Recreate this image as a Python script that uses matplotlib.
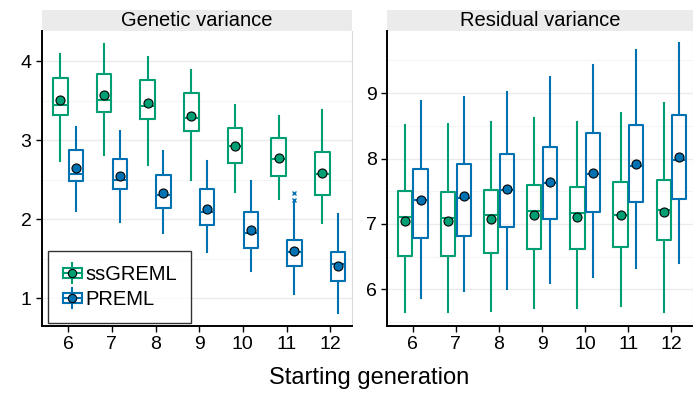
import matplotlib.pyplot as plt
from matplotlib.legend_handler import HandlerBase
from matplotlib.patches import Rectangle
from matplotlib.lines import Line2D

plt.rcParams['font.family'] = ['Liberation Sans', 'DejaVu Sans']

generations = [6, 7, 8, 9, 10, 11, 12]
methods = ['ssGREML', 'PREML']
colors = {'ssGREML': '#009E73', 'PREML': '#0072B2'}

# genetic variance: whisker low, q1, median, q3, whisker high, mean
gen_ss_lo = [2.74, 2.81, 2.68, 2.49, 2.34, 2.25, 1.95]
gen_ss_q1 = [3.32, 3.36, 3.27, 3.11, 2.71, 2.55, 2.31]
gen_ss_med = [3.45, 3.51, 3.43, 3.28, 2.93, 2.76, 2.57]
gen_ss_q3 = [3.78, 3.84, 3.76, 3.59, 3.15, 3.03, 2.85]
gen_ss_hi = [4.09, 4.22, 4.05, 3.89, 3.45, 3.30, 3.38]
gen_ss_mean = [3.51, 3.57, 3.47, 3.31, 2.93, 2.78, 2.59]

gen_pr_lo = [2.10, 1.96, 1.82, 1.59, 1.35, 1.05, 0.82]
gen_pr_q1 = [2.48, 2.38, 2.14, 1.93, 1.63, 1.41, 1.22]
gen_pr_med = [2.57, 2.50, 2.31, 2.09, 1.83, 1.59, 1.43]
gen_pr_q3 = [2.88, 2.76, 2.56, 2.38, 2.09, 1.74, 1.58]
gen_pr_hi = [3.17, 3.12, 2.86, 2.73, 2.48, 2.20, 2.07]
gen_pr_mean = [2.65, 2.55, 2.33, 2.13, 1.87, 1.60, 1.41]
gen_pr_out = [[], [], [], [], [], [2.24, 2.33], []]

# residual variance
res_ss_lo = [5.65, 5.66, 5.67, 5.72, 5.72, 5.74, 5.65]
res_ss_q1 = [6.51, 6.51, 6.56, 6.61, 6.61, 6.65, 6.76]
res_ss_med = [7.10, 7.09, 7.13, 7.20, 7.16, 7.14, 7.21]
res_ss_q3 = [7.50, 7.49, 7.52, 7.59, 7.57, 7.64, 7.67]
res_ss_hi = [8.51, 8.53, 8.56, 8.62, 8.56, 8.69, 8.85]
res_ss_mean = [7.04, 7.04, 7.07, 7.14, 7.11, 7.14, 7.19]

res_pr_lo = [5.87, 5.98, 6.00, 6.10, 6.19, 6.32, 6.40]
res_pr_q1 = [6.79, 6.81, 6.95, 7.08, 7.18, 7.34, 7.38]
res_pr_med = [7.36, 7.39, 7.52, 7.62, 7.77, 7.88, 7.98]
res_pr_q3 = [7.84, 7.92, 8.07, 8.18, 8.39, 8.51, 8.66]
res_pr_hi = [8.88, 8.94, 9.02, 9.25, 9.43, 9.66, 9.77]
res_pr_mean = [7.36, 7.42, 7.53, 7.64, 7.78, 7.91, 8.02]


def make_stats(lo, q1, med, q3, hi, mean, out=None):
    stats = []
    for i in range(len(lo)):
        stats.append(dict(whislo=lo[i], q1=q1[i], med=med[i], q3=q3[i],
                          whishi=hi[i], mean=mean[i],
                          fliers=out[i] if out else []))
    return stats


def draw_panel(ax, groups, title, ylim, yticks):
    offset = {'ssGREML': -0.18, 'PREML': 0.18}
    for name, stats in groups:
        c = colors[name]
        pos = [g + offset[name] for g in generations]
        ax.bxp(stats, positions=pos, widths=0.33, showmeans=True, showcaps=False,
               boxprops=dict(color=c, lw=1.5),
               whiskerprops=dict(color=c, lw=1.5),
               medianprops=dict(color=c, lw=1.5),
               meanprops=dict(marker='o', markerfacecolor=c, markeredgecolor='black',
                              markersize=6.5, markeredgewidth=0.8),
               flierprops=dict(marker='x', markeredgecolor=c, markersize=3.5,
                               markeredgewidth=1.0),
               manage_ticks=False, zorder=3)
    ax.set_xticks(generations)
    ax.set_xticklabels([str(g) for g in generations])
    ax.set_yticks(yticks)
    ax.set_yticks([y + 0.5 for y in yticks] + [yticks[0] - 0.5], minor=True)
    ax.set_xlim(5.4, 12.5)
    ax.set_ylim(*ylim)
    ax.grid(True, which='major', axis='y', color='#EBEBEB', lw=1.0)
    ax.grid(True, which='minor', axis='y', color='#F5F5F5', lw=0.8)
    ax.set_axisbelow(True)
    ax.tick_params(axis='both', which='major', labelsize=14, length=4, width=1,
                   color='black', labelcolor='black')
    ax.tick_params(axis='y', which='minor', length=0)
    ax.tick_params(axis='x', pad=3)
    for s in ['left', 'bottom']:
        ax.spines[s].set_color('black')
        ax.spines[s].set_linewidth(1.4)
    ax.spines['top'].set_visible(False)
    ax.spines['right'].set_color('#D9D9D9')
    ax.spines['right'].set_linewidth(0.8)
    # facet strip
    strip_h = 21 / 295
    ax.add_patch(Rectangle((0, 1), 1, strip_h, transform=ax.transAxes,
                           facecolor='#EBEBEB', edgecolor='none', clip_on=False))
    ax.text(0.5, 1 + strip_h / 2, title, transform=ax.transAxes, ha='center',
            va='center', fontsize=14.5)


class HandlerBox(HandlerBase):
    def create_artists(self, legend, orig_handle, xdescent, ydescent,
                       width, height, fontsize, trans):
        c = orig_handle.get_color()
        cx = width / 2 - xdescent
        cy = height / 2 - ydescent
        bw = width * 0.95
        bh = height * 0.75
        vline = Line2D([cx, cx], [cy - height * 0.7, cy + height * 0.7],
                       color=c, lw=1.5, transform=trans)
        box = Rectangle((cx - bw / 2, cy - bh / 2), bw, bh, facecolor='white',
                        edgecolor=c, lw=1.5, transform=trans)
        med = Line2D([cx - bw / 2, cx + bw / 2], [cy, cy], color=c, lw=1.5,
                     transform=trans)
        dot = Line2D([cx], [cy], marker='o', markerfacecolor=c,
                     markeredgecolor='black', markersize=6, markeredgewidth=0.8,
                     transform=trans)
        return [vline, box, med, dot]


fig = plt.figure(figsize=(6.93, 3.94), dpi=100)
ax1 = fig.add_axes([0.0606, 0.1726, 0.4474, 0.7487])
ax2 = fig.add_axes([0.5584, 0.1726, 0.4416, 0.7487])

draw_panel(ax1, [
    ('ssGREML', make_stats(gen_ss_lo, gen_ss_q1, gen_ss_med, gen_ss_q3, gen_ss_hi, gen_ss_mean)),
    ('PREML', make_stats(gen_pr_lo, gen_pr_q1, gen_pr_med, gen_pr_q3, gen_pr_hi, gen_pr_mean, gen_pr_out)),
], 'Genetic variance', (0.65, 4.38), [1, 2, 3, 4])

draw_panel(ax2, [
    ('ssGREML', make_stats(res_ss_lo, res_ss_q1, res_ss_med, res_ss_q3, res_ss_hi, res_ss_mean)),
    ('PREML', make_stats(res_pr_lo, res_pr_q1, res_pr_med, res_pr_q3, res_pr_hi, res_pr_mean)),
], 'Residual variance', (5.44, 9.95), [6, 7, 8, 9])

handles = [Line2D([], [], color=colors[m]) for m in methods]
leg = ax1.legend(handles, methods, handler_map={Line2D: HandlerBox()},
                 loc='lower left', bbox_to_anchor=(0.02, 0.01), fontsize=14.5,
                 frameon=True, fancybox=False, edgecolor='black',
                 handlelength=1.0, handleheight=0.7, handletextpad=0.15,
                 borderpad=0.7, labelspacing=0.3, borderaxespad=0)
leg.get_frame().set_linewidth(1.0)

fig.text(0.532, 0.04, 'Starting generation', ha='center', va='center', fontsize=17)

fig.savefig('out.png', dpi=100)
